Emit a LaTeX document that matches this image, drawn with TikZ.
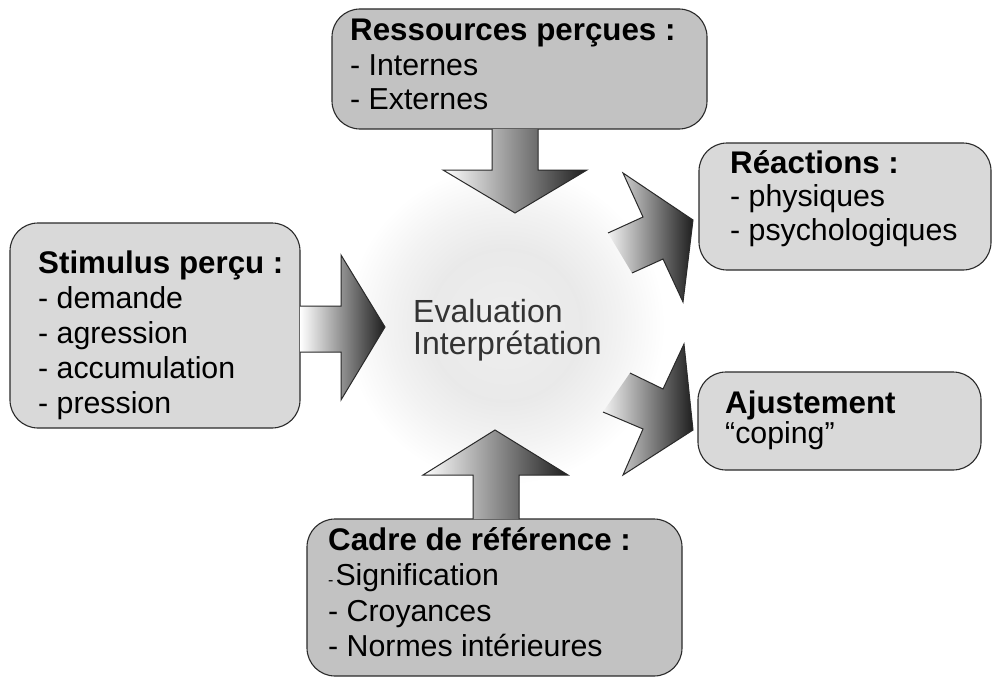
\documentclass[tikz,border=0pt]{standalone}
\usepackage{fontspec}
\setmainfont{Liberation Sans}
\definecolor{boxdark}{HTML}{C2C2C2}
\definecolor{boxlight}{HTML}{D9D9D9}
\definecolor{edgec}{HTML}{2A2A2A}
\definecolor{centertext}{HTML}{333333}
\pgfdeclareradialshading{glow}{\pgfpoint{0bp}{0bp}}{rgb(0bp)=(0.935,0.935,0.935); rgb(12bp)=(0.915,0.915,0.915); rgb(18bp)=(0.95,0.95,0.95); rgb(25bp)=(1,1,1); rgb(50bp)=(1,1,1)}
\tikzset{
  boxd/.style={draw=edgec, line width=1.1pt, fill=boxdark, rounded corners=28pt},
  boxl/.style={draw=edgec, line width=1.1pt, fill=boxlight, rounded corners=28pt},
  arrowshade/.style={left color=white, right color=black!88},
  diagshade/.style={left color=white!95!black, right color=black!88},
  arrowline/.style={draw=edgec, line width=1pt, line join=miter},
  txt/.style={anchor=base west, inner sep=0pt, text=black},
}
\newcommand{\boxlines}[3]{{\fontsize{30.3}{#1}\selectfont\begin{tabular}[t]{@{}l@{}}{\fontsize{31.3}{#1}\selectfont\bfseries #2}\\#3\end{tabular}}}
\begin{document}
\begin{tikzpicture}[x=1pt,y=-1pt]
\useasboundingbox (0,0) rectangle (992,677);
\fill[white] (0,0) rectangle (992,677);
% central glow
\shade[shading=glow] (505,325) circle (160);
\node[txt, text=centertext] (eval) at (413,322) {{\fontsize{32}{31}\selectfont\begin{tabular}[t]{@{}l@{}}Evaluation\\Interprétation\end{tabular}}};
% boxes
\path[boxd] (332,9) rectangle (707,129);
\node[txt] (res) at (350,41) {\boxlines{34.5}{Ressources perçues :}{- Internes\\- Externes}};
\path[boxl] (10,223) rectangle (300,428);
\node[txt] (stim) at (38,273) {\boxlines{35}{Stimulus perçu :}{- demande\\- agression\\- accumulation\\- pression}};
\path[boxl] (699,143) rectangle (991,270);
\node[txt] (reac) at (730,173) {\boxlines{33.5}{Réactions :}{- physiques\\- psychologiques}};
\path[boxl] (698,372) rectangle (981,470);
\node[txt] (ajust) at (725,413) {\boxlines{29.5}{Ajustement}{“coping”}};
\path[boxd] (307,519) rectangle (682,676);
\node[txt] (cadre) at (328,550) {\boxlines{35.5}{Cadre de référence :}{{\fontsize{16}{16}\selectfont -}\kern2pt Signification\\- Croyances\\- Normes intérieures}};
% down arrow (from Ressources)
\shade[arrowshade] (492,129) -- (492,170) -- (443,170) -- (515,213) -- (587,170) -- (538,170) -- (538,129) -- cycle;
\draw[arrowline] (492,129) -- (492,170) -- (443,170) -- (515,213) -- (587,170) -- (538,170) -- (538,129);
% right arrow (from Stimulus)
\shade[arrowshade] (300,306) -- (341,306) -- (341,255) -- (385,327) -- (341,400) -- (341,352) -- (300,352) -- cycle;
\draw[arrowline] (300,306) -- (341,306) -- (341,255) -- (385,327) -- (341,400) -- (341,352) -- (300,352);
% up arrow (from Cadre)
\shade[arrowshade] (473,519) -- (473,475) -- (423,475) -- (495,430) -- (568,475) -- (519,475) -- (519,519) -- cycle;
\draw[arrowline] (473,519) -- (473,475) -- (423,475) -- (495,430) -- (568,475) -- (519,475) -- (519,519);
% diagonal arrow to Reactions
\shade[diagshade] (608,233) -- (643,217) -- (623,173) -- (693,220) -- (683,302) -- (663,259) -- (632,273) -- cycle;
\draw[arrowline] (608,233) -- (643,217) -- (623,173) -- (693,220) -- (683,302) -- (663,259) -- (632,273);
% diagonal arrow to Ajustement
\shade[diagshade] (630,373) -- (663,389) -- (684,344) -- (693,430) -- (623,475) -- (643,429) -- (603,412) -- cycle;
\draw[arrowline] (630,373) -- (663,389) -- (684,344) -- (693,430) -- (623,475) -- (643,429) -- (603,412);
\end{tikzpicture}
\end{document}
